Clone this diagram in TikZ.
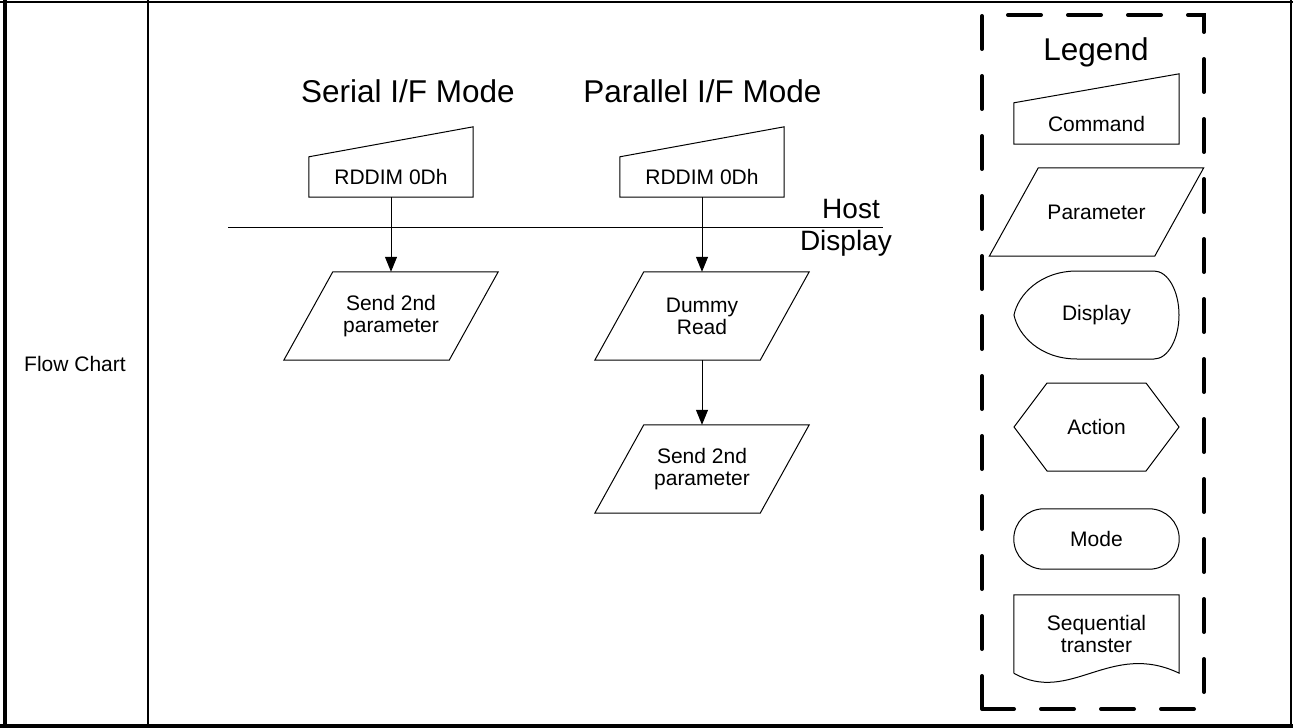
\documentclass[tikz,border=0pt]{standalone}
\usepackage{fontspec}
\setmainfont{Liberation Sans}
\usetikzlibrary{arrows.meta,calc}
\newcommand{\paragram}[2]{\draw[shp] ($(#1.north west)+(#2,0)$) -- ($(#1.north east)+(#2,0)$) -- ($(#1.south east)+(-#2,0)$) -- ($(#1.south west)+(-#2,0)$) -- cycle;}
\newcommand{\cmdshape}[2]{\draw[shp] (#1.south west) -- (#1.north west) -- ($(#1.north east)+(0,-#2)$) -- (#1.south east) -- cycle;}
\begin{document}
\begin{tikzpicture}[x=1pt,y=-1pt,
  shp/.style={draw=black, line width=1pt},
  small/.style={font=\fontsize{21}{22}\selectfont, align=center},
  big/.style={font=\fontsize{31.5}{34}\selectfont},
  mid/.style={font=\fontsize{28}{30}\selectfont},
  flowbox/.style={small, minimum width=165pt, minimum height=88pt, inner sep=0pt},
  cmdbox/.style={small, minimum width=164pt, minimum height=40pt, inner sep=0pt},
  arr/.style={line width=1pt, -{Triangle[length=15pt,width=12pt]}},
  legendframe/.style={line width=4pt, line cap=round, dash pattern=on 33pt off 27pt},
]
\useasboundingbox (0,0) rectangle (1293,728);
\fill[white] (0,0) rectangle (1293,728);

% table frame
\draw[line width=2.5pt] (0,2) -- (1293,2);
\draw[line width=4pt] (5,0) -- (5,728);
\draw[line width=4pt] (0,726) -- (1293,726);
\draw[line width=2pt] (1291,0) -- (1291,728);
\draw[line width=2pt] (148,0) -- (148,726);

\node[small] (fc) at (75,364) {Flow Chart};

% titles
\node[big, anchor=base, inner sep=0pt] (ts) at (408,102) {Serial I/F Mode};
\node[big, anchor=base, inner sep=0pt] (tp) at (702.5,102) {Parallel I/F Mode};

% commands
\node[cmdbox] (c1) at (391,177) {RDDIM 0Dh};
\cmdshape{c1}{30}
\node[cmdbox] (c2) at (702,177) {RDDIM 0Dh};
\cmdshape{c2}{30}

% host / display line
\coordinate (hl) at (228,227);
\coordinate (hr) at (883,227);
\draw[line width=1pt] (hl) -- (hr);
\node[mid, anchor=base east, inner sep=0pt] (host) at (880,218) {Host};
\node[mid, anchor=base east, inner sep=0pt] (disp) at (892,250) {Display};

% parameters
\node[flowbox] (s1) at (391,316) {Send 2nd\\parameter};
\paragram{s1}{24.5}
\node[flowbox] (d1) at (702,316) {Dummy\\Read};
\paragram{d1}{24.5}
\node[flowbox] (s2) at (702,469) {Send 2nd\\parameter};
\paragram{s2}{24.5}

\draw[arr] (c1.south) -- (s1.north);
\draw[arr] (c2.south) -- (d1.north);
\draw[arr] (d1.south) -- (s2.north);

% legend
\draw[legendframe] (982,709) -- (982,15) -- (1204,15) -- (1204,709) -- cycle;
\node[big, anchor=base, inner sep=0pt] (lg) at (1096,60) {Legend};

\node[cmdbox, minimum width=165pt, minimum height=41pt] (lc) at (1096.5,123.5) {Command};
\cmdshape{lc}{29}

\node[flowbox] (lp) at (1096.5,212) {Parameter};
\paragram{lp}{24.5}

\node[flowbox] (ld) at (1096.5,315) {Display};
\draw[shp] ($(ld)+(-19.5,-44)$) -- ($(ld)+(57.5,-44)$)
  .. controls ($(ld)+(71.3,-44)$) and ($(ld)+(82.5,-24.3)$) .. ($(ld)+(82.5,0)$)
  .. controls ($(ld)+(82.5,24.3)$) and ($(ld)+(71.3,44)$) .. ($(ld)+(57.5,44)$)
  -- ($(ld)+(-19.5,44)$)
  .. controls ($(ld)+(-56.5,44)$) and ($(ld)+(-78.5,20)$) .. ($(ld)+(-82.5,0)$)
  .. controls ($(ld)+(-78.5,-20)$) and ($(ld)+(-56.5,-44)$) .. cycle;

\node[flowbox] (la) at (1096.5,427) {Action};
\draw[shp] ($(la)+(-49.5,-44)$) -- ($(la)+(49.5,-44)$) -- ($(la)+(82.5,0)$) -- ($(la)+(49.5,44)$) -- ($(la)+(-49.5,44)$) -- ($(la)+(-82.5,0)$) -- cycle;

\node[flowbox, minimum height=60pt] (lm) at (1096.5,539) {Mode};
\draw[shp, rounded corners=30pt] (lm.south west) rectangle (lm.north east);

\node[small, minimum width=165pt, minimum height=78pt, inner sep=0pt] (lsq) at (1096.5,634) {Sequential\\transter};
\draw[shp] (lsq.south west) -- (lsq.north west) -- (lsq.north east) -- (lsq.south east)
  .. controls ($(lsq.south east)+(-69,-33)$) and ($(lsq.south east)+(-109,32)$) .. (lsq.south west);
\end{tikzpicture}
\end{document}
